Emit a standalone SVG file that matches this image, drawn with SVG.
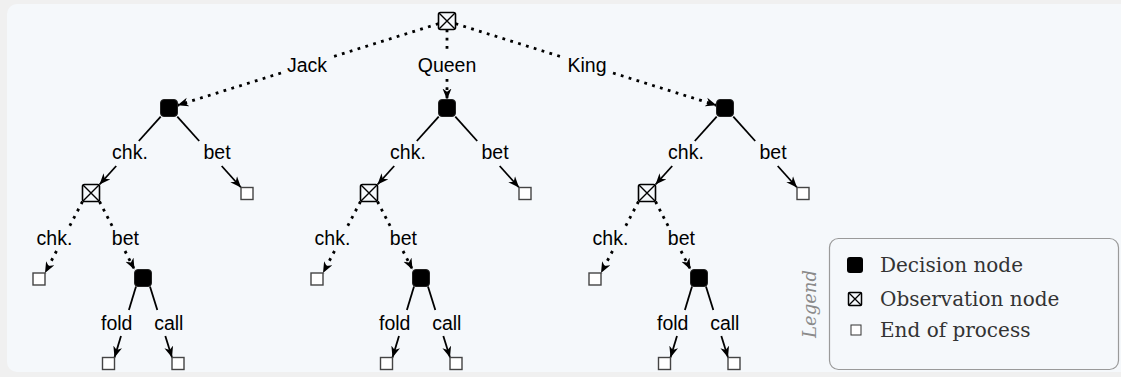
<svg xmlns="http://www.w3.org/2000/svg" width="1121" height="377" viewBox="0 0 1121 377">
<defs>
<style>
.bg{fill:#f0f0f0}
.panel{fill:#f5f8fb}
.dec{fill:#000;stroke:#222;stroke-width:1}
.obs{fill:#f5f8fb;stroke:#000;stroke-width:1.6}
.obsx{fill:none;stroke:#000;stroke-width:1.4}
.end{fill:#fff;stroke:#444;stroke-width:1.4}
.e{fill:none;stroke:#000;stroke-width:1.8}
.d{fill:none;stroke:#000;stroke-width:2.8;stroke-dasharray:2.8 5.4}
.lbl{font-family:"Liberation Sans",Arial,sans-serif;font-size:19.5px;fill:#000;text-anchor:middle}
.leg{font-family:"DejaVu Serif",serif;font-size:20px;fill:#333}
</style>
<marker id="arr" markerUnits="userSpaceOnUse" markerWidth="12" markerHeight="10" viewBox="0 0 12 10" refX="11" refY="5" orient="auto"><path d="M0,0.5 L11,5 L0,9.5 L3.2,5 Z" fill="#000"/></marker>
</defs>
<rect class="bg" x="0" y="0" width="1121" height="377"/>
<rect class="panel" x="7" y="4" width="1130" height="368" rx="10"/>

<g id="connectors">
<path class="d" d="M438.5,23.7 L333,56.7"/>
<path class="d" d="M281,73 L177.5,105.3" marker-end="url(#arr)"/>
<path class="d" d="M447,29.5 L447,51"/>
<path class="d" d="M447,79 L447,99.5" marker-end="url(#arr)"/>
<path class="d" d="M455.5,23.7 L561,56.7"/>
<path class="d" d="M613,73 L716.5,105.3" marker-end="url(#arr)"/>
<path class="e" d="M160.7,116.7 L138.8,141"/><path class="e" d="M116.2,166 L99.5,184.5" marker-end="url(#arr)"/>
<path class="e" d="M177.3,116.7 L199.2,141"/><path class="e" d="M221.7,166 L241,187.5" marker-end="url(#arr)"/>
<path class="d" d="M82.5,201.5 L68.1,229"/><path class="d" d="M56.5,251 L45,273" marker-end="url(#arr)"/>
<path class="d" d="M99.5,201.5 L113.7,229"/><path class="d" d="M125,251 L134.5,269.5" marker-end="url(#arr)"/>
<path class="e" d="M136,286.5 L128.9,310"/><path class="e" d="M121,336 L114.5,357.5" marker-end="url(#arr)"/>
<path class="e" d="M150,286.5 L157.3,310"/><path class="e" d="M165.3,336 L172,357.5" marker-end="url(#arr)"/>
<path class="e" d="M438.7,116.7 L416.8,141"/><path class="e" d="M394.2,166 L377.5,184.5" marker-end="url(#arr)"/>
<path class="e" d="M455.3,116.7 L477.2,141"/><path class="e" d="M499.7,166 L519,187.5" marker-end="url(#arr)"/>
<path class="d" d="M360.5,201.5 L346.1,229"/><path class="d" d="M334.5,251 L323,273" marker-end="url(#arr)"/>
<path class="d" d="M377.5,201.5 L391.7,229"/><path class="d" d="M403,251 L412.5,269.5" marker-end="url(#arr)"/>
<path class="e" d="M414,286.5 L406.9,310"/><path class="e" d="M399,336 L392.5,357.5" marker-end="url(#arr)"/>
<path class="e" d="M428,286.5 L435.3,310"/><path class="e" d="M443.3,336 L450,357.5" marker-end="url(#arr)"/>
<path class="e" d="M716.7,116.7 L694.8,141"/><path class="e" d="M672.2,166 L655.5,184.5" marker-end="url(#arr)"/>
<path class="e" d="M733.3,116.7 L755.2,141"/><path class="e" d="M777.7,166 L797,187.5" marker-end="url(#arr)"/>
<path class="d" d="M638.5,201.5 L624.1,229"/><path class="d" d="M612.5,251 L601,273" marker-end="url(#arr)"/>
<path class="d" d="M655.5,201.5 L669.7,229"/><path class="d" d="M681,251 L690.5,269.5" marker-end="url(#arr)"/>
<path class="e" d="M692,286.5 L684.9,310"/><path class="e" d="M677,336 L670.5,357.5" marker-end="url(#arr)"/>
<path class="e" d="M706,286.5 L713.3,310"/><path class="e" d="M721.3,336 L728,357.5" marker-end="url(#arr)"/>
<text class="lbl" x="307" y="72">Jack</text>
<text class="lbl" x="447" y="72">Queen</text>
<text class="lbl" x="587" y="72">King</text>
<text class="lbl" x="130" y="158.5">chk.</text><text class="lbl" x="217" y="158.5">bet</text>
<text class="lbl" x="54.5" y="245">chk.</text><text class="lbl" x="125.4" y="245">bet</text>
<text class="lbl" x="116.7" y="330">fold</text><text class="lbl" x="168.8" y="330">call</text>
<text class="lbl" x="408" y="158.5">chk.</text><text class="lbl" x="495" y="158.5">bet</text>
<text class="lbl" x="332.5" y="245">chk.</text><text class="lbl" x="403.4" y="245">bet</text>
<text class="lbl" x="394.7" y="330">fold</text><text class="lbl" x="446.8" y="330">call</text>
<text class="lbl" x="686" y="158.5">chk.</text><text class="lbl" x="773" y="158.5">bet</text>
<text class="lbl" x="610.5" y="245">chk.</text><text class="lbl" x="681.4" y="245">bet</text>
<text class="lbl" x="672.7" y="330">fold</text><text class="lbl" x="724.8" y="330">call</text>
</g>

<g id="root-obs" transform="translate(447,21)"><rect class="obs" x="-8.5" y="-8.5" width="17" height="17" rx="2"/><path class="obsx" d="M-8,-8L8,8M8,-8L-8,8"/></g>

<g id="jack-dec"><rect class="dec" x="160.5" y="99.5" width="17" height="17" rx="3.5"/></g>
<g id="jack-obs" transform="translate(91,193)"><rect class="obs" x="-8.5" y="-8.5" width="17" height="17" rx="2"/><path class="obsx" d="M-8,-8L8,8M8,-8L-8,8"/></g>
<g id="jack-bet-end"><rect class="end" x="241" y="187.5" width="12" height="12"/></g>
<g id="jack-chk-end"><rect class="end" x="33" y="273" width="12" height="12"/></g>
<g id="jack-dec2"><rect class="dec" x="134.5" y="269.5" width="17" height="17" rx="3.5"/></g>
<g id="jack-fold-end"><rect class="end" x="102.5" y="357.5" width="12" height="12"/></g>
<g id="jack-call-end"><rect class="end" x="172" y="357.5" width="12" height="12"/></g>

<g id="queen-dec"><rect class="dec" x="438.5" y="99.5" width="17" height="17" rx="3.5"/></g>
<g id="queen-obs" transform="translate(369,193)"><rect class="obs" x="-8.5" y="-8.5" width="17" height="17" rx="2"/><path class="obsx" d="M-8,-8L8,8M8,-8L-8,8"/></g>
<g id="queen-bet-end"><rect class="end" x="519" y="187.5" width="12" height="12"/></g>
<g id="queen-chk-end"><rect class="end" x="311" y="273" width="12" height="12"/></g>
<g id="queen-dec2"><rect class="dec" x="412.5" y="269.5" width="17" height="17" rx="3.5"/></g>
<g id="queen-fold-end"><rect class="end" x="380.5" y="357.5" width="12" height="12"/></g>
<g id="queen-call-end"><rect class="end" x="450" y="357.5" width="12" height="12"/></g>

<g id="king-dec"><rect class="dec" x="716.5" y="99.5" width="17" height="17" rx="3.5"/></g>
<g id="king-obs" transform="translate(647,193)"><rect class="obs" x="-8.5" y="-8.5" width="17" height="17" rx="2"/><path class="obsx" d="M-8,-8L8,8M8,-8L-8,8"/></g>
<g id="king-bet-end"><rect class="end" x="797" y="187.5" width="12" height="12"/></g>
<g id="king-chk-end"><rect class="end" x="589" y="273" width="12" height="12"/></g>
<g id="king-dec2"><rect class="dec" x="690.5" y="269.5" width="17" height="17" rx="3.5"/></g>
<g id="king-fold-end"><rect class="end" x="658.5" y="357.5" width="12" height="12"/></g>
<g id="king-call-end"><rect class="end" x="728" y="357.5" width="12" height="12"/></g>

<g id="legend">
<rect x="829.5" y="238.5" width="289" height="131" rx="9" fill="none" stroke="#9a9a9a" stroke-width="1.2"/>
<text transform="translate(815.5,304) rotate(-90)" text-anchor="middle" font-family="'DejaVu Serif',serif" font-style="italic" font-size="18" fill="#8a8a8a">Legend</text>
<rect x="847" y="257" width="16" height="16" rx="3" fill="#000"/>
<text class="leg" x="880" y="272">Decision node</text>
<rect x="848.5" y="292.5" width="13" height="13" rx="1" fill="none" stroke="#000" stroke-width="1.5"/>
<path d="M849,293L861,305M861,293L849,305" stroke="#000" stroke-width="1.3"/>
<text class="leg" x="880" y="306">Observation node</text>
<rect x="851" y="325" width="10" height="10" fill="#fff" stroke="#333" stroke-width="1"/>
<text class="leg" x="880" y="337">End of process</text>
</g>
</svg>
